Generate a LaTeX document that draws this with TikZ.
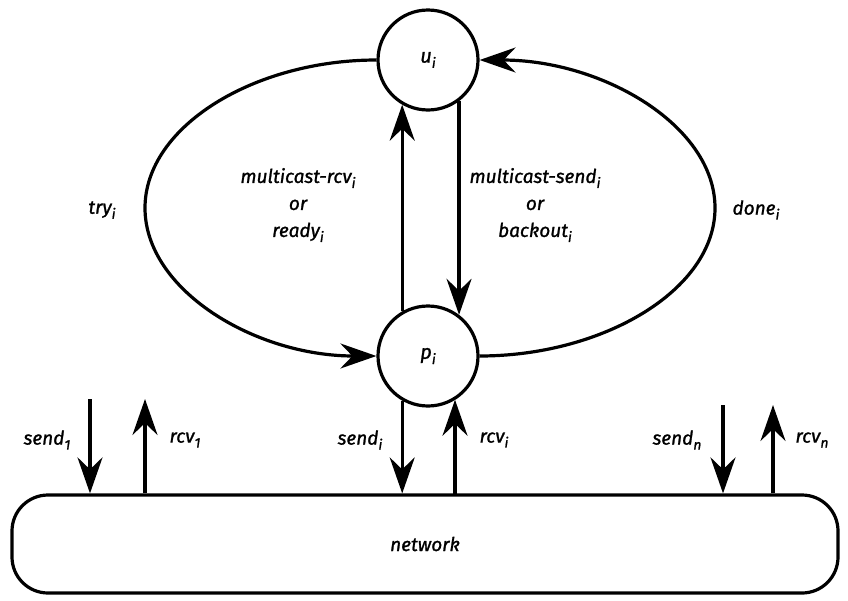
\documentclass[tikz,border=0pt]{standalone}
\usepackage{fontspec}
\setmainfont{Fira Sans}[ItalicFeatures={FakeBold=1.2}]
\usetikzlibrary{arrows.meta,positioning}
\newcommand{\mysb}[1]{\raisebox{-0.5ex}{\fontsize{14}{14}\selectfont #1}}
\tikzset{
  lbl/.style={font=\fontsize{19}{27}\selectfont\itshape, inner sep=1pt},
  proc/.style={circle, draw, line width=3.2pt, minimum size=100pt, inner sep=0pt, font=\fontsize{20}{20}\selectfont\itshape},
  flow/.style={line width=3.2pt, -{Stealth[length=36pt,width=25pt,inset=12pt]}},
  netbox/.style={draw, line width=3.2pt, rounded corners=36pt, minimum width=826pt, minimum height=98pt, font=\fontsize{19}{19}\selectfont\itshape}
}
\begin{document}
\begin{tikzpicture}[x=1pt,y=-1pt]
\useasboundingbox (0,0) rectangle (848,600);
\node[proc] (u) at (428,60) {u\mysb{i}};
\node[proc] (p) at (428,356) {p\mysb{i}};
\node[netbox] (net) at (425,544) {network};

% loop
\draw[flow] (u.west) .. controls (255,60) and (145,126) .. (145,208)
  .. controls (145,290) and (255,356) .. (p.west);
\draw[flow] (p.east) .. controls (603,356) and (715,290) .. (715,208)
  .. controls (715,126) and (603,60) .. (u.east);

% between circles
\draw[flow] (p.120) -- (u.240);
\draw[flow] (u.-53) -- (p.53);

% p to network
\draw[flow] (p.240) -- (p.240 |- net.north);
\coordinate (rcvbase) at (455,495);
\draw[flow] (rcvbase) -- (rcvbase |- p.-58);

% other processes
\coordinate (s1) at (90,399);
\coordinate (r1) at (145,399);
\coordinate (sn) at (723,405);
\coordinate (rn) at (773,405);
\draw[flow] (s1) -- (s1 |- net.north);
\draw[flow] (r1 |- net.north) -- (r1);
\draw[flow] (sn) -- (sn |- net.north);
\draw[flow] (rn |- net.north) -- (rn);

% labels
\node[lbl, align=center] (lrcv) at (298,205) {multicast-rcv\mysb{i}\\or\\ready\mysb{i}};
\node[lbl, align=center] (lsend) at (535,205) {multicast-send\mysb{i}\\or\\backout\mysb{i}};
\node[lbl] (ltry) at (102,210) {try\mysb{i}};
\node[lbl] (ldone) at (756,210) {done\mysb{i}};
\node[lbl] (ls1) at (47,440) {send\mysb{1}};
\node[lbl] (lr1) at (185,440) {rcv\mysb{1}};
\node[lbl] (lsi) at (360,440) {send\mysb{i}};
\node[lbl] (lri) at (494,440) {rcv\mysb{i}};
\node[lbl] (lsn) at (677,440) {send\mysb{n}};
\node[lbl] (lrn) at (812,440) {rcv\mysb{n}};
\end{tikzpicture}
\end{document}
